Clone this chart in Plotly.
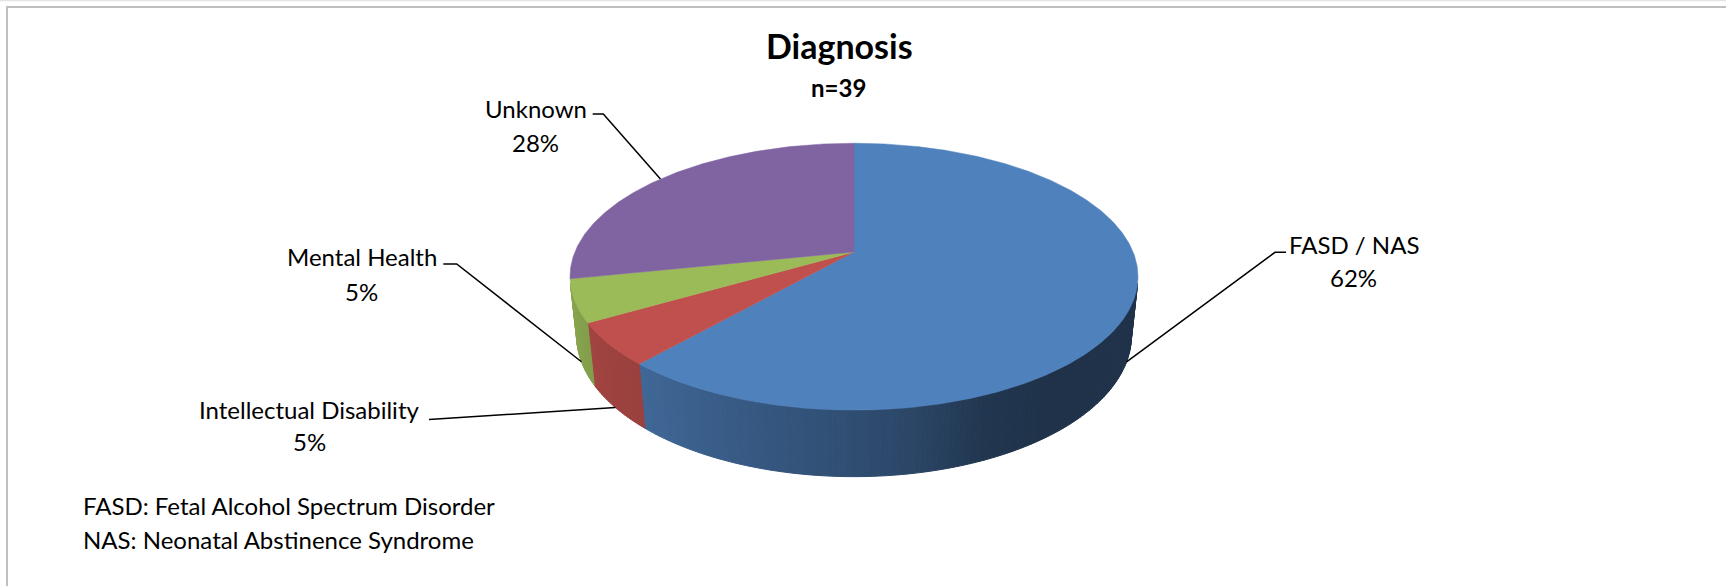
import numpy as np
import plotly.graph_objects as go

# ---------------- data ----------------
categories = ["FASD / NAS", "Intellectual Disability", "Mental Health", "Unknown"]
counts = [24, 2, 2, 11]
n_total = 39
title_text = "Diagnosis"
subtitle_text = "n=39"
footnotes = ["FASD: Fetal Alcohol Spectrum Disorder", "NAS: Neonatal Abstinence Syndrome"]

# ---------------- style ----------------
top_colors = ["#4F81BD", "#C0504D", "#9BBB59", "#8064A2"]
FONT = "Lato, Carlito, Calibri, sans-serif"
W, H = 1726, 586
LABEL_SIZE = 24

# perspective projection of the 3D pie (pixel space)
CX, CY = 854.0, 252.0
FOC = 1339.2
DIST = 4.798
ALPHA = np.deg2rad(27.5)
THICK = 0.24
CA, SA = np.cos(ALPHA), np.sin(ALPHA)


def project(theta_deg, h):
    th = np.deg2rad(theta_deg)
    u = np.sin(th)
    v = -np.cos(th)
    depth = DIST - v * CA - h * SA
    x = CX + FOC * u / depth
    y = CY - FOC * (-v * SA + h * CA) / depth
    return x, y


def shade_factor(theta):
    pts = [90, 145, 157, 170, 180, 221, 232, 250, 270]
    vals = [0.39, 0.39, 0.42, 0.54, 0.60, 0.80, 0.82, 0.87, 0.90]
    return float(np.interp(theta, pts, vals))


def scaled(hex_color, f):
    h = hex_color.lstrip("#")
    r, g, b = (int(h[i:i + 2], 16) for i in (0, 2, 4))
    return "rgb({},{},{})".format(int(round(r * f)), int(round(g * f)), int(round(b * f)))


fig = go.Figure()

total = float(sum(counts))
bounds = [0.0]
for c in counts:
    bounds.append(bounds[-1] + c / total * 360.0)

# visible range of the cylinder side
v_min = 1.0 / (DIST * CA)
vis_lo = np.degrees(np.arccos(-v_min))
vis_hi = 360.0 - vis_lo

# ---- side walls (drawn first) ----
for i, col in enumerate(top_colors):
    a0, a1 = max(bounds[i], vis_lo), min(bounds[i + 1], vis_hi)
    if a1 <= a0:
        continue
    nstep = max(2, int(np.ceil((a1 - a0) / 1.0)))
    edges = np.linspace(a0, a1, nstep + 1)
    for t0, t1 in zip(edges[:-1], edges[1:]):
        tt = np.linspace(t0, t1, 3)
        xt, yt = project(tt, 0.0)
        xb, yb = project(tt[::-1], -THICK)
        xs = np.concatenate([xt, xb, xt[:1]])
        ys = np.concatenate([yt, yb, yt[:1]])
        cc = scaled(col, shade_factor(0.5 * (t0 + t1)))
        fig.add_trace(go.Scatter(x=xs, y=ys, mode="lines", fill="toself",
                                 fillcolor=cc, line=dict(color=cc, width=1),
                                 hoverinfo="skip", showlegend=False))

# ---- top faces ----
for i, col in enumerate(top_colors):
    tt = np.linspace(bounds[i], bounds[i + 1], max(3, int((bounds[i + 1] - bounds[i]) * 2)))
    xa, ya = project(tt, 0.0)
    xs = np.concatenate([[CX], xa, [CX]])
    ys = np.concatenate([[CY], ya, [CY]])
    fig.add_trace(go.Scatter(x=xs, y=ys, mode="lines", fill="toself",
                             fillcolor=col, line=dict(color=col, width=0.5),
                             hoverinfo="skip", showlegend=False, name=categories[i]))

# ---- labels with leader lines ----
# label layout: (centre x, line-1 centre y, line-2 centre y, knee x, knee y, tail x)
label_layout = {
    "FASD / NAS": (1353.5, 244.5, 277.5, 1275.0, 252.3, 1286.0),
    "Intellectual Disability": (309.0, 409.0, 441.0, 440.0, 419.5, 429.0),
    "Mental Health": (361.5, 256.5, 291.0, 456.7, 264.0, 443.3),
    "Unknown": (535.5, 108.0, 142.0, 603.3, 114.0, 592.7),
}

for i, cat in enumerate(categories):
    mid = 0.5 * (bounds[i] + bounds[i + 1])
    if vis_lo < mid < vis_hi:
        ex, ey = project(mid, -THICK)
    else:
        ex, ey = project(mid, 0.0)
    lx, l1, l2, kx, ky, tx = label_layout[cat]
    fig.add_trace(go.Scatter(x=[float(ex), kx, tx], y=[float(ey), ky, ky], mode="lines",
                             line=dict(color="black", width=1.5),
                             hoverinfo="skip", showlegend=False))
    pct = "{}%".format(int(round(counts[i] / total * 100)))
    fig.add_annotation(x=lx, y=l1, text=cat, showarrow=False, xanchor="center",
                       yanchor="middle", font=dict(family=FONT, size=LABEL_SIZE, color="black"))
    fig.add_annotation(x=lx, y=l2, text=pct, showarrow=False, xanchor="center",
                       yanchor="middle", font=dict(family=FONT, size=LABEL_SIZE, color="black"))

# ---- title ----
fig.add_annotation(x=839, y=45, text="<b>" + title_text + "</b>", showarrow=False,
                   xanchor="center", yanchor="middle",
                   font=dict(family=FONT, size=34, color="black"))
fig.add_annotation(x=838, y=87, text="<b>" + subtitle_text + "</b>", showarrow=False,
                   xanchor="center", yanchor="middle",
                   font=dict(family=FONT, size=24, color="black"))

# ---- footnotes ----
for k, txt in enumerate(footnotes):
    fig.add_annotation(x=80.5, y=505 + 34 * k, text=txt, showarrow=False,
                       xanchor="left", yanchor="middle",
                       font=dict(family=FONT, size=LABEL_SIZE, color="black"))

# ---- chart border ----
fig.add_shape(type="rect", x0=7, y0=7, x1=W + 20, y1=H + 20,
              line=dict(color="#BFBFBF", width=2), layer="below")
fig.add_shape(type="line", x0=0, y0=0.5, x1=W, y1=0.5,
              line=dict(color="#E3E3E3", width=1.5), layer="below")

fig.update_layout(
    width=W, height=H,
    margin=dict(l=0, r=0, t=0, b=0),
    paper_bgcolor="white", plot_bgcolor="white",
    showlegend=False,
    xaxis=dict(range=[0, W], visible=False, fixedrange=True),
    yaxis=dict(range=[H, 0], visible=False, fixedrange=True),
)

fig.write_html("out.html")
